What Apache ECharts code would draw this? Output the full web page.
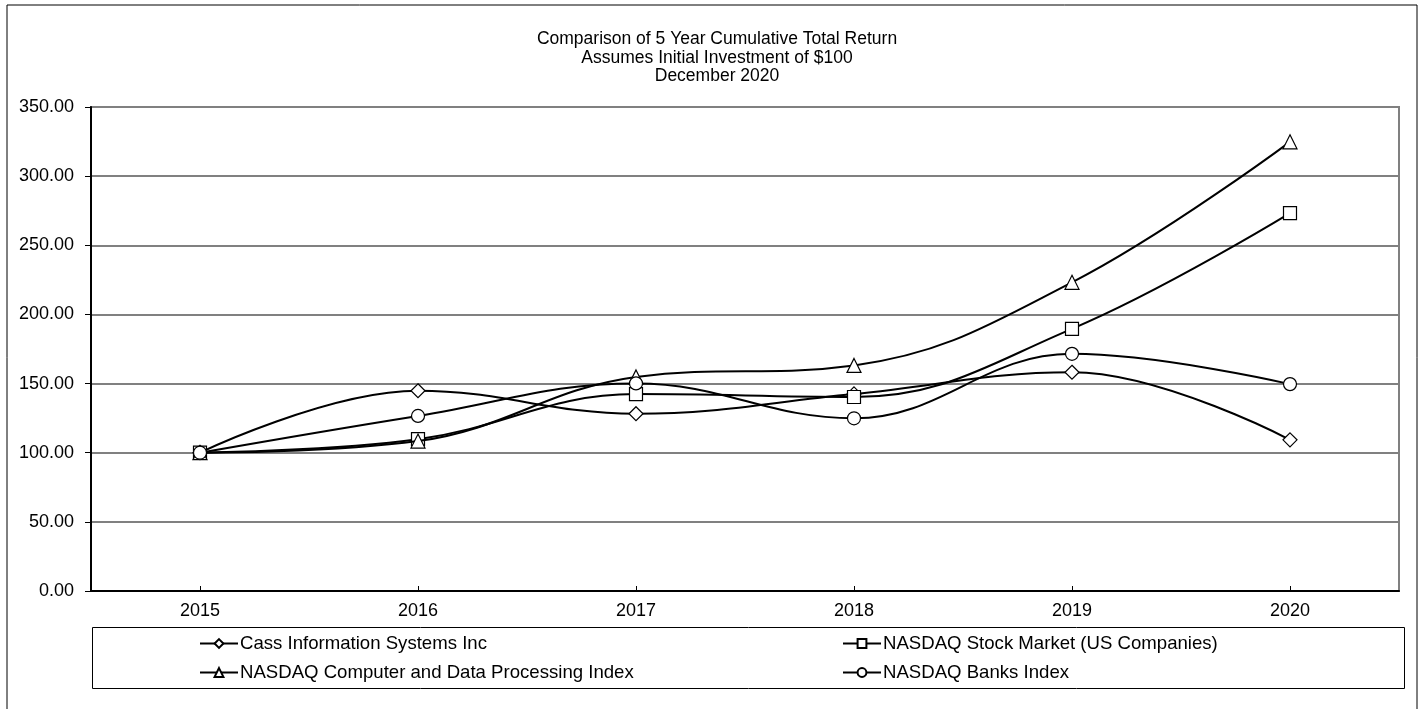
<!DOCTYPE html>
<html>
<head>
<meta charset="utf-8">
<script src="https://cdn.jsdelivr.net/npm/echarts@6/dist/echarts.min.js"></script>
<style>
html,body{margin:0;padding:0;background:#fff;}
#chart{width:1424px;height:709px;}
</style>
</head>
<body>
<div id="chart"></div>
<script>
const titleLines = ['Comparison of 5 Year Cumulative Total Return', 'Assumes Initial Investment of $100', 'December 2020'];
const years = ['2015', '2016', '2017', '2018', '2019', '2020'];
const seriesNames = ['Cass Information Systems Inc', 'NASDAQ Stock Market (US Companies)', 'NASDAQ Computer and Data Processing Index', 'NASDAQ Banks Index'];
const cass = [100, 144.8, 128.2, 142.5, 158.2, 109.3];
const nasdaqMarket = [100, 109.8, 142.4, 140.3, 189.6, 273.2];
const nasdaqComputer = [100, 108.4, 154.8, 163.1, 223.2, 324.8];
const nasdaqBanks = [100, 126.6, 150.1, 124.9, 171.5, 149.6];
const yMin = 0, yMax = 350, yStep = 50;

const FONT = '"Liberation Sans", Arial, sans-serif';
const symbols = ['diamond', 'rect', 'triangle', 'circle'];
const sizes = [14, 13, 14, 13];
const dataSets = [cass, nasdaqMarket, nasdaqComputer, nasdaqBanks];

const chart = echarts.init(document.getElementById('chart'), null, {renderer: 'canvas'});

const series = seriesNames.map((n, i) => ({
  name: n,
  type: 'line',
  data: dataSets[i],
  smooth: 0.4,
  symbol: symbols[i],
  symbolSize: sizes[i],
  showAllSymbol: true,
  lineStyle: {color: '#000', width: 2},
  itemStyle: {color: '#fff', borderColor: '#000', borderWidth: 1.2},
  emphasis: {disabled: true},
  animation: false,
  z: 2 + i
}));

const legendPos = [
  {left: 199, top: 634},
  {left: 842, top: 634},
  {left: 199, top: 663},
  {left: 842, top: 663}
];

const option = {
  animation: false,
  backgroundColor: '#fff',
  title: {
    text: titleLines.join('\n'),
    left: 712,
    top: 25,
    textAlign: 'center',
    textStyle: {fontFamily: FONT, fontSize: 17.5, fontWeight: 'normal', color: '#000', lineHeight: 18.5}
  },
  graphic: [
    {type: 'rect', shape: {x: 7, y: 5, width: 1410, height: 720}, style: {fill: 'none', stroke: '#000', lineWidth: 1}, silent: true, z: -10},
    {type: 'rect', shape: {x: 92.5, y: 627.5, width: 1312, height: 61}, style: {fill: 'none', stroke: '#000', lineWidth: 1}, silent: true, z: -5}
  ],
  legend: seriesNames.map((n, i) => ({
    data: [n],
    left: legendPos[i].left,
    top: legendPos[i].top,
    padding: 0,
    itemWidth: 38,
    itemHeight: 11,
    selectedMode: false,
    textStyle: {fontFamily: FONT, fontSize: 18.6, color: '#000', padding: [0, 0, 0, -3]}
  })),
  grid: {left: 91, right: 25, top: 107, bottom: 118, show: true, borderColor: '#808080', borderWidth: 2, containLabel: false},
  xAxis: {
    type: 'category',
    data: years,
    boundaryGap: true,
    axisLine: {lineStyle: {color: '#000', width: 2}},
    axisTick: {show: true, inside: true, length: 5, alignWithLabel: true, lineStyle: {color: '#000', width: 1}},
    axisLabel: {fontFamily: FONT, fontSize: 18, color: '#000', margin: 11},
    splitLine: {show: false}
  },
  yAxis: {
    type: 'value',
    min: yMin,
    max: yMax,
    interval: yStep,
    axisLine: {show: true, lineStyle: {color: '#000', width: 2}},
    axisTick: {show: true, inside: false, length: 6, lineStyle: {color: '#000', width: 1}},
    axisLabel: {fontFamily: FONT, fontSize: 18, color: '#000', margin: 17, formatter: v => v.toFixed(2)},
    splitLine: {show: true, lineStyle: {color: '#808080', width: 2}}
  },
  series: series
};
chart.setOption(option);
</script>
</body>
</html>
